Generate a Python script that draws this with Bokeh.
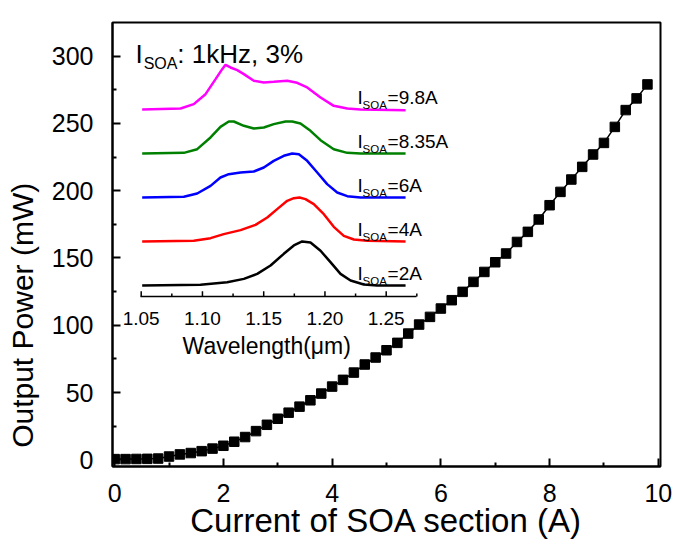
from bokeh.plotting import figure
from bokeh.models import Range1d, FixedTicker
from bokeh.embed import file_html
from bokeh.resources import INLINE
from bokeh.core.properties import value

FONT = "Liberation Sans"

# ---------------- main data ----------------
current_A = [0.0, 0.2, 0.4, 0.6, 0.8, 1.0, 1.2, 1.4, 1.6, 1.8,
             2.0, 2.2, 2.4, 2.6, 2.8, 3.0, 3.2, 3.4, 3.6, 3.8,
             4.0, 4.2, 4.4, 4.6, 4.8, 5.0, 5.2, 5.4, 5.6, 5.8,
             6.0, 6.2, 6.4, 6.6, 6.8, 7.0, 7.2, 7.4, 7.6, 7.8,
             8.0, 8.2, 8.4, 8.6, 8.8, 9.0, 9.2, 9.4, 9.6, 9.8]
power_mW = [0.5, 0.5, 0.6, 0.7, 0.9, 2.4, 4.0, 5.0, 6.4, 8.3,
            10.4, 13.4, 16.9, 21.3, 26.0, 30.5, 35.0, 39.5, 44.2, 49.2,
            54.4, 59.4, 64.8, 70.8, 76.0, 81.4, 86.9, 93.8, 100.5, 106.2,
            112.4, 118.6, 124.8, 132.2, 139.6, 146.8, 153.3, 161.9, 169.4, 178.6,
            189.2, 199.1, 208.3, 217.7, 226.9, 235.5, 247.4, 259.9, 268.6, 279.0]

x_ticks = [0, 2, 4, 6, 8, 10]
x_minor = [1, 3, 5, 7, 9]
y_ticks = [0, 50, 100, 150, 200, 250, 300]
y_minor = [25, 75, 125, 175, 225, 275]

# ---------------- inset spectra (normalised intensity) ----------------
wl_2A = [1.0508, 1.0984, 1.1202, 1.1338, 1.1447, 1.1556, 1.1664, 1.1746, 1.1814,
         1.1882, 1.1964, 1.2045, 1.2127, 1.2209, 1.2317, 1.2427, 1.2658]
int_2A = [0, 0.015, 0.076, 0.15, 0.265, 0.455, 0.72, 0.91, 1.0,
          0.977, 0.79, 0.53, 0.265, 0.114, 0.023, 0, 0]

wl_4A = [1.0508, 1.0929, 1.1066, 1.1174, 1.1311, 1.1433, 1.1529, 1.1610, 1.1692, 1.1746,
         1.1792, 1.1841, 1.1909, 1.1991, 1.2072, 1.2154, 1.2236, 1.2345, 1.2658]
int_4A = [0, 0.015, 0.076, 0.167, 0.258, 0.379, 0.545, 0.735, 0.924, 0.985,
          1.0, 0.962, 0.848, 0.621, 0.333, 0.129, 0.045, 0.015, 0]

wl_6A = [1.0508, 1.0848, 1.0957, 1.1066, 1.1147, 1.1215, 1.1311, 1.1419, 1.1501, 1.1582,
         1.1664, 1.1733, 1.1787, 1.1855, 1.1937, 1.2018, 1.2100, 1.2182, 1.2290, 1.2658]
int_6A = [0, 0.015, 0.091, 0.265, 0.455, 0.530, 0.568, 0.591, 0.682, 0.833,
          0.947, 1.0, 0.985, 0.833, 0.568, 0.303, 0.114, 0.030, 0, 0]

wl_835A = [1.0508, 1.0848, 1.0957, 1.1066, 1.1147, 1.1215, 1.1256, 1.1338, 1.1419, 1.1501,
           1.1582, 1.1678, 1.1733, 1.1800, 1.1882, 1.1964, 1.2072, 1.2182, 1.2290, 1.2658]
int_835A = [0, 0.015, 0.098, 0.364, 0.606, 0.727, 0.727, 0.629, 0.568, 0.591,
            0.667, 0.727, 0.727, 0.682, 0.515, 0.303, 0.098, 0.015, 0, 0]

wl_98A = [1.0508, 1.0821, 1.0929, 1.1025, 1.1107, 1.1161, 1.1188, 1.1229, 1.1284, 1.1338,
          1.1419, 1.1501, 1.1582, 1.1692, 1.1773, 1.1855, 1.1964, 1.2072, 1.2182, 1.2290, 1.2658]
int_98A = [0, 0.023, 0.121, 0.348, 0.689, 0.917, 1.015, 0.955, 0.894, 0.803,
           0.652, 0.614, 0.629, 0.652, 0.606, 0.5, 0.273, 0.083, 0.023, 0, -0.015]

spec_wl = [wl_2A, wl_4A, wl_6A, wl_835A, wl_98A]
spec_int = [int_2A, int_4A, int_6A, int_835A, int_98A]
spec_labels = ["=2A", "=4A", "=6A", "=8.35A", "=9.8A"]
spec_colors = ["#000000", "#ff0000", "#0000ff", "#008000", "#ff00ff"]

inset_ticks = [1.05, 1.10, 1.15, 1.20, 1.25]
inset_tick_labels = ["1.05", "1.10", "1.15", "1.20", "1.25"]
inset_minor = [1.075, 1.125, 1.175, 1.225, 1.275]

# ---------------- figure ----------------
p = figure(width=677, height=547, output_backend="svg", toolbar_location=None,
           x_range=Range1d(-0.04, 10.04), y_range=Range1d(-5, 325),
           min_border_left=112, min_border_right=17, min_border_top=22, min_border_bottom=81)
p.background_fill_color = "white"
p.border_fill_color = "white"
p.outline_line_color = "black"
p.outline_line_width = 2
p.xgrid.visible = False
p.ygrid.visible = False

for ax in (p.xaxis[0], p.yaxis[0]):
    ax.axis_line_width = 2
    ax.major_tick_line_width = 2
    ax.minor_tick_line_width = 2
    ax.major_tick_in = 8
    ax.major_tick_out = 0
    ax.minor_tick_in = 4
    ax.minor_tick_out = 0
    ax.major_label_text_font = FONT
    ax.major_label_text_font_size = "25px"
    ax.major_label_text_color = "black"
    ax.axis_label_text_font = FONT
    ax.axis_label_text_font_style = "normal"
    ax.axis_label_text_color = "black"

p.xaxis[0].ticker = FixedTicker(ticks=x_ticks, minor_ticks=x_minor)
p.yaxis[0].ticker = FixedTicker(ticks=y_ticks, minor_ticks=y_minor)
p.xaxis[0].axis_label = "Current of SOA section (A)"
p.xaxis[0].axis_label_text_font_size = "33px"
p.xaxis[0].major_label_standoff = 17
p.xaxis[0].axis_label_standoff = -3
# the original y title sits below the frame centre; trailing no-break spaces push it down
p.yaxis[0].axis_label = "Output Power (mW)" + "\u00a0" * 17
p.yaxis[0].axis_label_text_font_size = "30px"
p.yaxis[0].major_label_standoff = 19
p.yaxis[0].axis_label_standoff = 10

p.line(current_A, power_mW, line_color="black", line_width=1.5)
p.scatter(current_A, power_mW, marker="square", size=9.5, fill_color="black", line_color="black")

# ---------------- inset (own ranges over the same frame) ----------------
p.extra_x_ranges = {"wl": Range1d(1.02657, 1.47392)}
p.extra_y_ranges = {"spec": Range1d(-4.1136, 5.977)}

for k in range(5):
    ys = [v + k for v in spec_int[k]]
    p.line(spec_wl[k], ys, line_color=spec_colors[k], line_width=2.5,
           x_range_name="wl", y_range_name="spec")

# inset axis
axis_y = -0.25
p.segment(x0=[1.0494], y0=[axis_y], x1=[1.2747], y1=[axis_y], line_color="black",
          line_width=1.5, x_range_name="wl", y_range_name="spec")
p.segment(x0=inset_ticks, y0=[axis_y] * 5, x1=inset_ticks, y1=[axis_y + 0.12] * 5,
          line_color="black", line_width=1.5, x_range_name="wl", y_range_name="spec")
p.segment(x0=inset_minor, y0=[axis_y] * 5, x1=inset_minor, y1=[axis_y + 0.07] * 5,
          line_color="black", line_width=1.5, x_range_name="wl", y_range_name="spec")
p.text(x=inset_ticks, y=[-0.75] * 5, text=inset_tick_labels, text_align="center",
       text_baseline="alphabetic", text_font=value(FONT), text_font_size="19px",
       text_color="black", x_range_name="wl", y_range_name="spec")
p.text(x=[1.1525], y=[-1.364], text=["Wavelength(\u03bcm)"], text_align="center",
       text_baseline="alphabetic", text_font=value(FONT), text_font_size="23px",
       text_color="black", x_range_name="wl", y_range_name="spec")

# inset title I_SOA: 1kHz, 3%
p.text(x=[1.0453], y=[5.27], text=["I"], text_baseline="alphabetic", text_font=value(FONT),
       text_font_size="26px", text_color="black", x_range_name="wl", y_range_name="spec")
p.text(x=[1.0520], y=[5.04], text=["SOA"], text_baseline="alphabetic", text_font=value(FONT),
       text_font_size="16px", text_color="black", x_range_name="wl", y_range_name="spec")
p.text(x=[1.0795], y=[5.27], text=[": 1kHz, 3%"], text_baseline="alphabetic", text_font=value(FONT),
       text_font_size="26px", text_color="black", x_range_name="wl", y_range_name="spec")

# curve labels
lab_y = [k + 0.28 for k in range(5)]
p.text(x=[1.2266] * 5, y=lab_y, text=["I"] * 5, text_baseline="alphabetic", text_font=value(FONT),
       text_font_size="19px", text_color="black", x_range_name="wl", y_range_name="spec")
p.text(x=[1.2307] * 5, y=[v - 0.18 for v in lab_y], text=["SOA"] * 5, text_baseline="alphabetic",
       text_font=value(FONT), text_font_size="11.5px", text_color="black",
       x_range_name="wl", y_range_name="spec")
p.text(x=[1.2511] * 5, y=lab_y, text=spec_labels, text_baseline="alphabetic", text_font=value(FONT),
       text_font_size="19px", text_color="black", x_range_name="wl", y_range_name="spec")

open("out.html", "w").write(file_html(p, INLINE))
